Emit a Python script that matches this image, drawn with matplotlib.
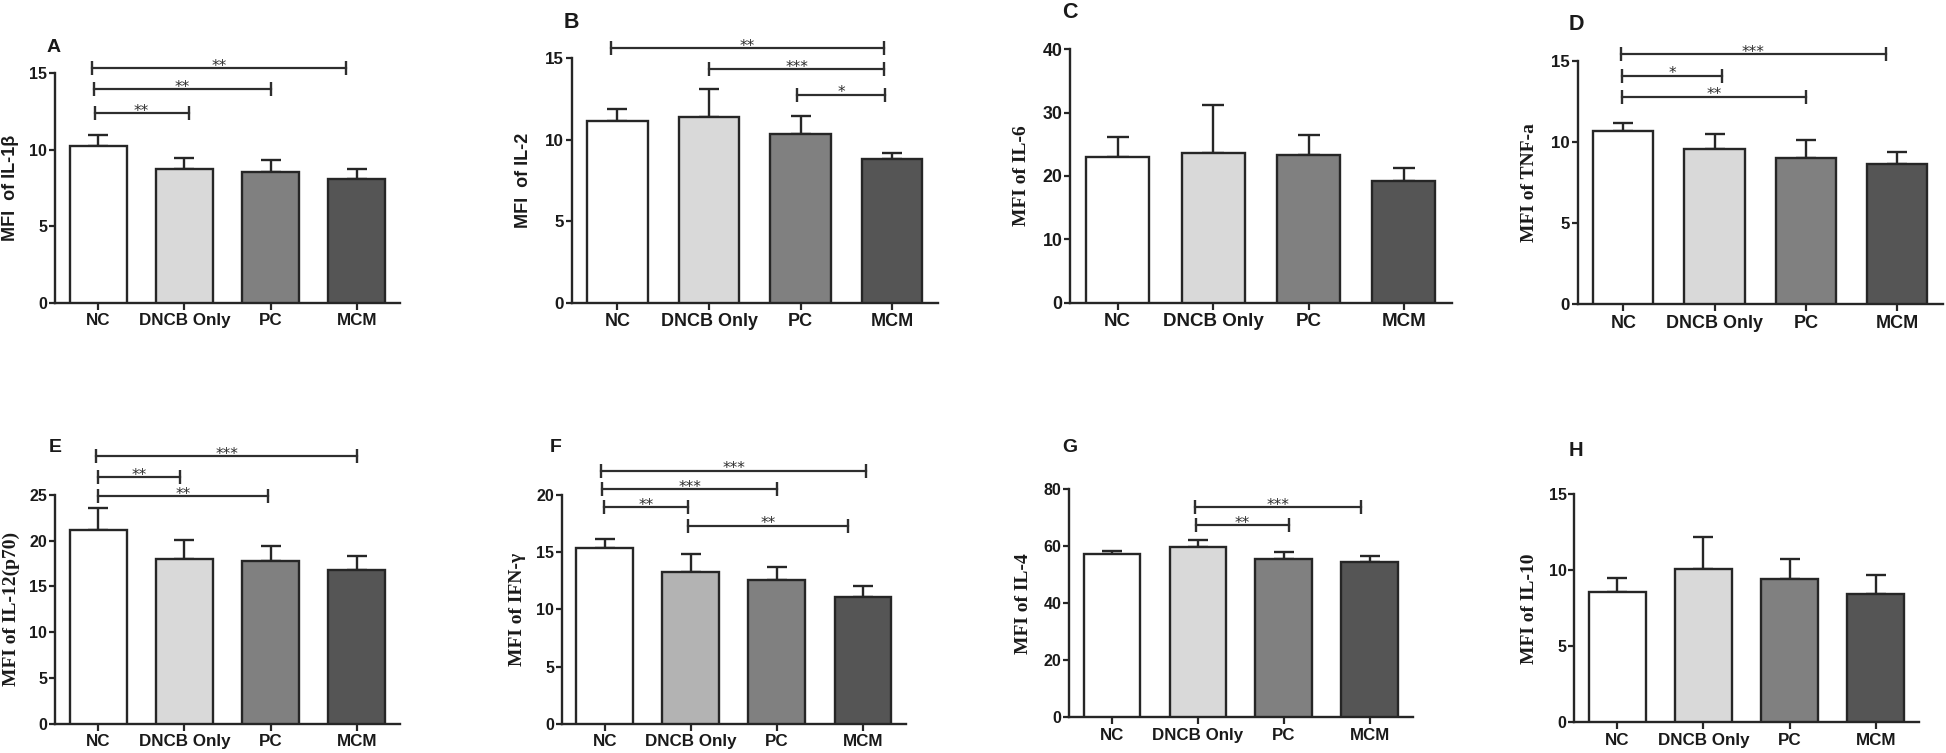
import matplotlib
matplotlib.use("Agg")
import matplotlib.pyplot as plt

W, H = 1946, 753

categories = ["NC", "DNCB Only", "PC", "MCM"]

# means and SEM (upper error) per panel
il1b_mean = [10.25, 8.76, 8.55, 8.11]
il1b_sem = [0.74, 0.70, 0.76, 0.65]
il2_mean = [11.17, 11.38, 10.33, 8.80]
il2_sem = [0.70, 1.76, 1.13, 0.39]
il6_mean = [23.0, 23.58, 23.37, 19.21]
il6_sem = [3.1, 7.68, 3.1, 2.09]
tnfa_mean = [10.70, 9.55, 9.04, 8.63]
tnfa_sem = [0.50, 0.95, 1.09, 0.78]
il12_mean = [21.17, 18.04, 17.78, 16.80]
il12_sem = [2.43, 2.00, 1.68, 1.49]
ifng_mean = [15.33, 13.27, 12.60, 11.08]
ifng_sem = [0.82, 1.57, 1.10, 0.96]
il4_mean = [57.1, 59.68, 55.36, 54.3]
il4_sem = [1.3, 2.32, 2.44, 2.1]
il10_mean = [8.6, 10.11, 9.41, 8.46]
il10_sem = [0.92, 2.06, 1.31, 1.23]

# significance brackets: (from, to, height, label)
il1b_sig = [(-0.07, 2.87, 15.33, "**"), (-0.05, 2.0, 13.95, "**"), (-0.04, 1.05, 12.38, "**")]
il2_sig = [(-0.07, 2.91, 15.61, "**"), (1.0, 2.91, 14.32, "***"), (1.96, 2.92, 12.77, "*")]
il6_sig = []
tnfa_sig = [(-0.03, 2.88, 15.41, "***"), (-0.01, 1.08, 14.1, "*"), (-0.01, 2.0, 12.8, "**")]
il12_sig = [(-0.02, 3.0, 29.23, "***"), (0.0, 0.95, 26.93, "**"), (0.0, 1.97, 24.89, "**")]
ifng_sig = [(-0.04, 3.04, 22.13, "***"), (-0.03, 2.0, 20.52, "***"),
            (-0.01, 0.97, 18.92, "**"), (0.97, 2.83, 17.32, "**")]
il4_sig = [(0.97, 2.9, 73.6, "***"), (0.98, 2.06, 67.4, "**")]
il10_sig = []

ylabels = ["MFI  of IL-1β", "MFI  of IL-2", "MFI of IL-6", "MFI of TNF-a",
           "MFI of IL-12(p70)", "MFI of IFN-γ", "MFI of IL-4", "MFI of IL-10"]
letters = ["A", "B", "C", "D", "E", "F", "G", "H"]
yticks = [[0, 5, 10, 15], [0, 5, 10, 15], [0, 10, 20, 30, 40], [0, 5, 10, 15],
          [0, 5, 10, 15, 20, 25], [0, 5, 10, 15, 20], [0, 20, 40, 60, 80], [0, 5, 10, 15]]

means = [il1b_mean, il2_mean, il6_mean, tnfa_mean, il12_mean, ifng_mean, il4_mean, il10_mean]
sems = [il1b_sem, il2_sem, il6_sem, tnfa_sem, il12_sem, ifng_sem, il4_sem, il10_sem]
sigs = [il1b_sig, il2_sig, il6_sig, tnfa_sig, il12_sig, ifng_sig, il4_sig, il10_sig]

# layout in pixels: x0, x1, ytop, ybottom
boxes = [(55, 400, 73.3, 302.7), (571.7, 938, 58.3, 302.7), (1070, 1451.7, 49.3, 302.7),
         (1577.7, 1942.7, 61, 304.3), (55, 400, 495, 723.7), (561.7, 906, 495, 723.7),
         (1069, 1412.7, 489, 717.3), (1574.3, 1918.7, 494.3, 722.3)]
ylabel_x = [11, 524, 1022, 1530, 11, 518, 1023, 1530]
letter_pos = [(54, 48, 14), (571, 23, 15.5), (1070, 12, 15.5), (1576, 25, 15.5),
              (55, 447, 14), (556, 447, 14), (1070, 447, 14), (1576, 450, 14.5)]
serif_label = [False, False, True, True, True, True, True, True]

base_colors = ["#ffffff", "#d9d9d9", "#808080", "#555555"]
edge = "#262626"

fig = plt.figure(figsize=(W / 100, H / 100), dpi=100)

for i in range(8):
    x0, x1, yt, yb = boxes[i]
    ax = fig.add_axes([x0 / W, 1 - yb / H, (x1 - x0) / W, (yb - yt) / H])
    s = (x1 - x0) / 4 / 86.0
    cols = list(base_colors)
    if i == 5:
        cols[1] = "#b3b3b3"
    xs = list(range(len(categories)))
    ax.bar(xs, means[i], width=0.66, color=cols, edgecolor=edge, linewidth=1.7, zorder=3)
    ax.errorbar(xs, means[i], yerr=[[0] * 4, sems[i]], fmt="none", ecolor=edge,
                elinewidth=1.7, capsize=7 * s, capthick=1.7, zorder=2)
    ax.set_xlim(-0.5, 3.5)
    ax.set_ylim(0, yticks[i][-1])
    ax.set_yticks(yticks[i])
    ax.set_xticks(xs)
    ax.set_xticklabels(categories)
    for sp in ["top", "right"]:
        ax.spines[sp].set_visible(False)
    for sp in ["left", "bottom"]:
        ax.spines[sp].set_linewidth(1.7)
        ax.spines[sp].set_color(edge)
    ax.tick_params(axis="x", length=5, width=1.6, pad=2.5, colors=edge)
    ax.tick_params(axis="y", length=4, width=1.6, pad=1.5, colors=edge)
    for lab in ax.get_xticklabels():
        lab.set_fontfamily("Liberation Sans")
        lab.set_fontweight("bold")
        lab.set_fontsize(12.2 * s)
        lab.set_color("#1a1a1a")
    for lab in ax.get_yticklabels():
        lab.set_fontfamily("Liberation Sans")
        lab.set_fontweight("bold")
        lab.set_fontsize(11.5 * s)
        lab.set_color("#1a1a1a")
    for (a, b, y, t) in sigs[i]:
        ax.plot([a, b], [y, y], color="#2e2e2e", lw=1.6, clip_on=False,
                marker="|", markersize=9.5, markeredgewidth=1.7, zorder=4)
        ax.annotate(t, xy=((a + b) / 2, y), xytext=(0, -2), textcoords="offset points",
                    ha="center", va="baseline", fontsize=11, color="#2e2e2e",
                    annotation_clip=False, family="DejaVu Sans")
    ymid = (yt + yb) / 2
    fam = "Liberation Serif" if serif_label[i] else "Liberation Sans"
    fsz = 14 if serif_label[i] else 13
    fig.text(ylabel_x[i] / W, 1 - ymid / H, ylabels[i], rotation=90, ha="center",
             va="center", fontsize=fsz, fontweight="bold", family=fam, color="#1a1a1a")
    lx, ly, lf = letter_pos[i]
    fig.text(lx / W, 1 - ly / H, letters[i], ha="center", va="center", fontsize=lf,
             fontweight="bold", family="Liberation Sans", color="#1a1a1a")

fig.savefig("out.png", dpi=100, facecolor="white")
